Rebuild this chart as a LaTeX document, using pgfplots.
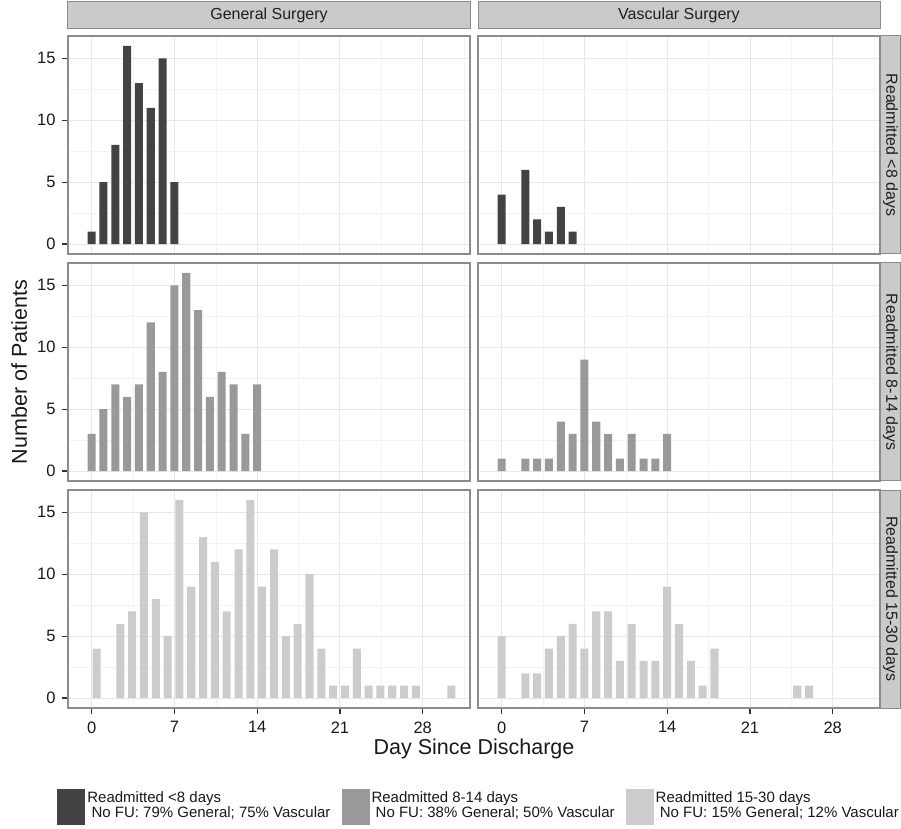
\documentclass[border=0pt]{standalone}
\usepackage{pgfplots}
\pgfplotsset{compat=1.18}
\usepackage{fontspec}
\setmainfont{Liberation Sans}

\definecolor{dk}{HTML}{434343}
\definecolor{md}{HTML}{999999}
\definecolor{lt}{HTML}{CCCCCC}
\definecolor{gridc}{HTML}{E8E8E8}
\definecolor{gridm}{HTML}{F3F3F3}
\definecolor{framec}{HTML}{8C8C8C}
\definecolor{stripc}{HTML}{CACACA}
\definecolor{tickc}{HTML}{333333}

\newcommand\tickfont{\fontsize{16.5}{19}\selectfont}
\newcommand\stripfont{\fontsize{16}{19}\selectfont}
\newcommand\labfont{\fontsize{21.5}{24}\selectfont}
\newcommand\legfont{\fontsize{15}{15.5}\selectfont}

\pgfplotsset{
  panel/.style={
    scale only axis, width=402pt, height=218pt, anchor=south west,
    xmin=-2, xmax=32, ymin=-0.8, ymax=16.8,
    xtick={0,7,14,21,28}, ytick={0,5,10,15},
    minor xtick={3.5,10.5,17.5,24.5,31.5}, minor ytick={2.5,7.5,12.5},
    grid=both,
    major grid style={draw=gridc, line width=0.9pt},
    minor grid style={draw=gridm, line width=0.5pt},
    axis line style={draw=framec, line width=1.2pt},
    tick align=outside, tick pos=left,
    major tick length=6pt, minor tick length=0pt,
    major tick style={draw=tickc, line width=1.2pt},
    /pgf/number format/assume math mode=true,
    ticklabel style={font=\tickfont, text=black!90},
    xticklabel style={yshift=-4pt},
    yticklabel style={xshift=-3pt},
    ybar, bar width=0.68,
    title style={at={(axis description cs:0.5,1)}, anchor=south, yshift=0.5pt,
      fill=stripc, draw=framec, line width=1pt, minimum width=402pt,
      minimum height=27pt, inner sep=0pt, font=\stripfont, text=black!88},
  },
  inner/.style={xticklabels={}, major x tick style={draw=none}},
  rcol/.style={yticklabels={}, major y tick style={draw=none}},
  rstrip/.style={extra description/.code={
    \node[rotate=-90, anchor=south, fill=stripc, draw=framec, line width=1pt,
      minimum width=218pt, minimum height=20pt, inner sep=0pt,
      font=\stripfont, text=black!88] at (axis description cs:1,0.5) {#1};}},
}

\begin{document}
\begin{tikzpicture}
\useasboundingbox (0,0) rectangle (901pt,828pt);

% row 1: readmitted <8 days
\begin{axis}[panel, inner, at={(68pt,574pt)}, title={General Surgery}]
\addplot[fill=dk, draw=none] coordinates {(0,1) (1,5) (2,8) (3,16) (4,13) (5,11) (6,15) (7,5)};
\end{axis}
\begin{axis}[panel, inner, rcol, at={(478pt,574pt)}, title={Vascular Surgery},
  rstrip={Readmitted <8 days}]
\addplot[fill=dk, draw=none] coordinates {(0,4) (2,6) (3,2) (4,1) (5,3) (6,1)};
\end{axis}

% row 2: readmitted 8-14 days
\begin{axis}[panel, inner, at={(68pt,347pt)}, ylabel={Number of Patients},
  ylabel style={at={(axis description cs:-0.102,0.5)}, anchor=base, rotate=0,
    font=\labfont, text=black!90}]
\addplot[fill=md, draw=none] coordinates {(0,3) (1,5) (2,7) (3,6) (4,7) (5,12) (6,8)
  (7,15) (8,16) (9,13) (10,6) (11,8) (12,7) (13,3) (14,7)};
\end{axis}
\begin{axis}[panel, inner, rcol, at={(478pt,347pt)}, rstrip={Readmitted 8-14 days}]
\addplot[fill=md, draw=none] coordinates {(0,1) (2,1) (3,1) (4,1) (5,4) (6,3) (7,9)
  (8,4) (9,3) (10,1) (11,3) (12,1) (13,1) (14,3)};
\end{axis}

% row 3: readmitted 15-30 days
\begin{axis}[panel, at={(68pt,120pt)}, xlabel={Day Since Discharge},
  xlabel style={at={(axis description cs:1.01,-0.212)}, anchor=base,
    font=\labfont, text=black!90},
  legend columns=3,
  legend style={at={(axis description cs:-0.027,-0.372)}, anchor=north west,
    draw=none, fill=none, inner sep=0pt, font=\legfont, text=black!90,
    cells={align=left},
    /tikz/every even column/.append style={column sep=9pt}},
  legend image code/.code={\fill[#1] (0pt,-20pt) rectangle (28pt,16pt);}]
\addlegendimage{fill=dk, draw=none}
\addlegendimage{fill=md, draw=none}
\addlegendimage{fill=lt, draw=none}
\addplot[fill=lt, draw=none, forget plot] coordinates {(0,4) (2,6) (3,7) (4,15) (5,8)
  (6,5) (7,16) (8,9) (9,13) (10,11) (11,7) (12,12) (13,16) (14,9) (15,12) (16,5)
  (17,6) (18,10) (19,4) (20,1) (21,1) (22,4) (23,1) (24,1) (25,1) (26,1) (27,1) (30,1)};
\legend{{Readmitted <8 days\\\ No FU: 79\% General; 75\% Vascular},
  {Readmitted 8-14 days\\\ No FU: 38\% General; 50\% Vascular},
  {Readmitted 15-30 days\\\ No FU: 15\% General; 12\% Vascular}}
\end{axis}
\begin{axis}[panel, rcol, at={(478pt,120pt)}, rstrip={Readmitted 15-30 days}]
\addplot[fill=lt, draw=none] coordinates {(0,5) (2,2) (3,2) (4,4) (5,5) (6,6) (7,4)
  (8,7) (9,7) (10,3) (11,6) (12,3) (13,3) (14,9) (15,6) (16,3) (17,1) (18,4)
  (25,1) (26,1)};
\end{axis}
\end{tikzpicture}
\end{document}
